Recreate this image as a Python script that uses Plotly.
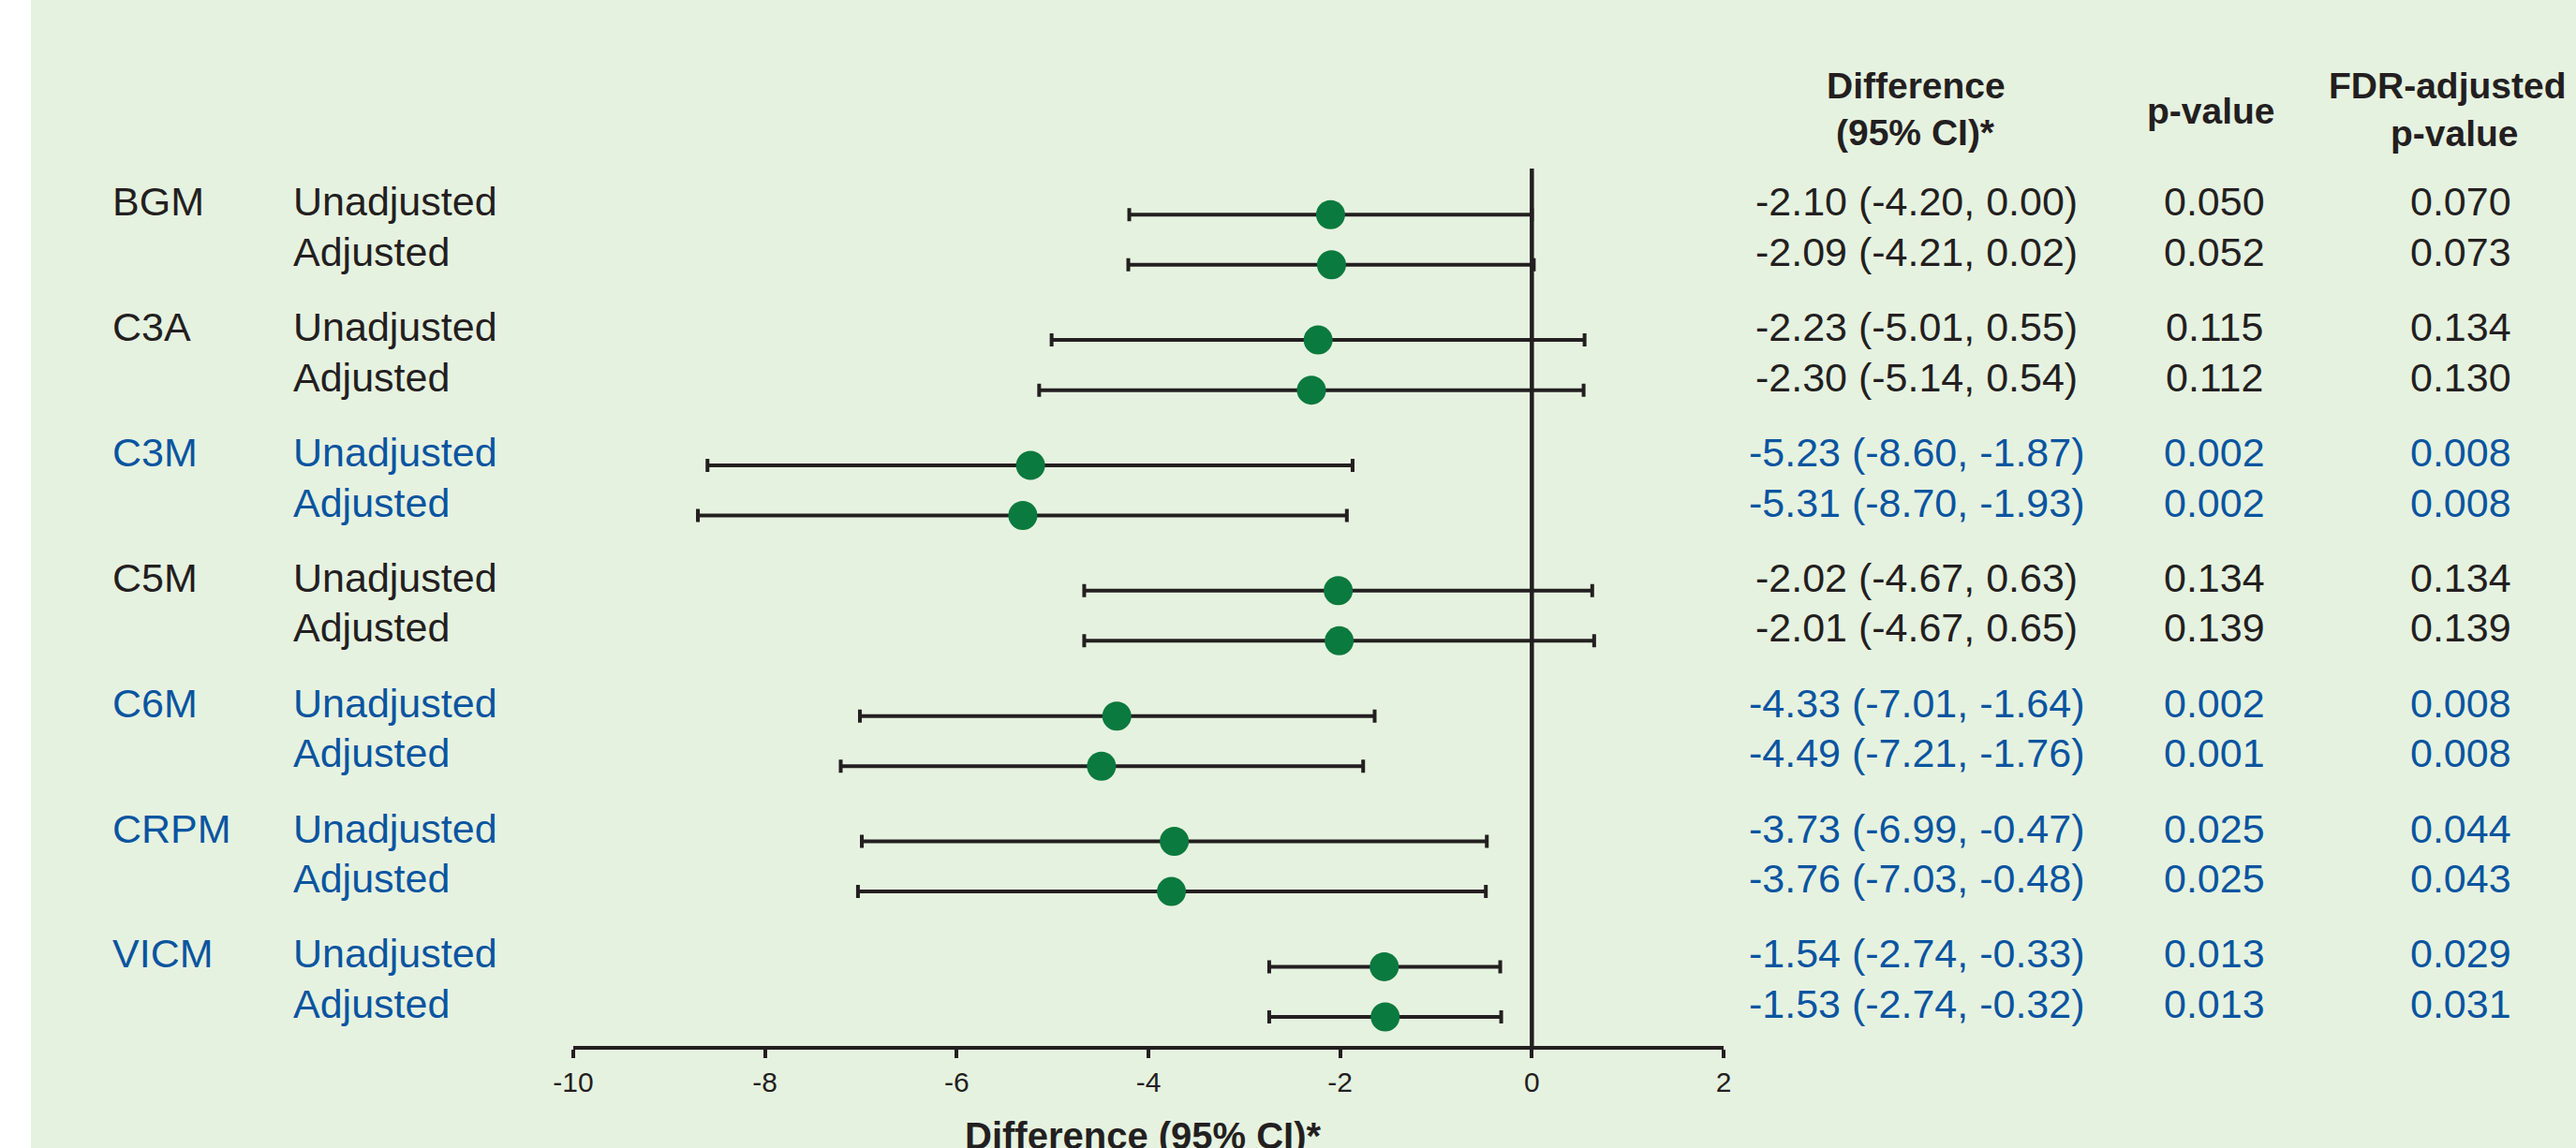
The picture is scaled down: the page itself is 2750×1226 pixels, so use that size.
import plotly.graph_objects as go

# ---------------- data ----------------
groups = ["BGM", "C3A", "C3M", "C5M", "C6M", "CRPM", "VICM"]
row_labels = ["Unadjusted", "Adjusted"]

est_unadj = [-2.10, -2.23, -5.23, -2.02, -4.33, -3.73, -1.54]
lo_unadj = [-4.20, -5.01, -8.60, -4.67, -7.01, -6.99, -2.74]
hi_unadj = [0.00, 0.55, -1.87, 0.63, -1.64, -0.47, -0.33]
p_unadj = ["0.050", "0.115", "0.002", "0.134", "0.002", "0.025", "0.013"]
fdr_unadj = ["0.070", "0.134", "0.008", "0.134", "0.008", "0.044", "0.029"]

est_adj = [-2.09, -2.30, -5.31, -2.01, -4.49, -3.76, -1.53]
lo_adj = [-4.21, -5.14, -8.70, -4.67, -7.21, -7.03, -2.74]
hi_adj = [0.02, 0.54, -1.93, 0.65, -1.76, -0.48, -0.32]
p_adj = ["0.052", "0.112", "0.002", "0.139", "0.001", "0.025", "0.013"]
fdr_adj = ["0.073", "0.130", "0.008", "0.139", "0.008", "0.043", "0.031"]

x_ticks = [-10, -8, -6, -4, -2, 0, 2]
headers = ["Difference", "(95% CI)*", "p-value", "FDR-adjusted", "p-value"]
axis_title = "Difference (95% CI)*"

# ---------------- styling ----------------
W, H = 2750, 1226
L, R, T, B = 612, 910, 180, 109
BG = "#e6f2e0"
BLACK = "#231f20"
BLUE = "#0a55a0"
GREEN = "#0b7a3e"
FONT = "Liberation Sans, Arial, sans-serif"
FS = 43


def px_x(px):
    return (px - L) / (W - L - R)


def px_y(py):
    return (H - B - py) / (H - T - B)


# build rows
ys, est, lo, hi, pv, fdr, sub, grp = [], [], [], [], [], [], [], []
for g in range(len(groups)):
    for r, (e, l, h, p, f) in enumerate([
        (est_unadj[g], lo_unadj[g], hi_unadj[g], p_unadj[g], fdr_unadj[g]),
        (est_adj[g], lo_adj[g], hi_adj[g], p_adj[g], fdr_adj[g]),
    ]):
        ys.append(g * 2.5 + r)
        est.append(e)
        lo.append(l)
        hi.append(h)
        pv.append(p)
        fdr.append(f)
        sub.append(row_labels[r])
        grp.append(g)

fig = go.Figure()
fig.add_trace(go.Scatter(
    x=est, y=ys, mode="markers",
    marker=dict(size=31, color=GREEN, line=dict(width=0)),
    error_x=dict(type="data", symmetric=False,
                 array=[h - e for h, e in zip(hi, est)],
                 arrayminus=[e - l for e, l in zip(est, lo)],
                 color=BLACK, thickness=4, width=7),
    showlegend=False, hoverinfo="skip",
))

ann = []
for i, y in enumerate(ys):
    g = grp[i]
    sig = float(fdr[i]) < 0.05
    col = BLUE if sig else BLACK
    if sub[i] == "Unadjusted":
        ann.append(dict(x=px_x(118), xref="paper", y=y, yref="y", text=groups[g],
                        xanchor="left", yanchor="middle", yshift=14, showarrow=False,
                        font=dict(size=FS, color=col, family=FONT)))
    ann.append(dict(x=px_x(311), xref="paper", y=y, yref="y", text=sub[i],
                    xanchor="left", yanchor="middle", yshift=14, showarrow=False,
                    font=dict(size=FS, color=col, family=FONT)))
    ann.append(dict(x=px_x(2046), xref="paper", y=y, yref="y",
                    text=f"{est[i]:.2f} ({lo[i]:.2f}, {hi[i]:.2f})",
                    xanchor="center", yanchor="middle", yshift=14, showarrow=False,
                    font=dict(size=FS, color=col, family=FONT)))
    ann.append(dict(x=px_x(2364), xref="paper", y=y, yref="y", text=pv[i],
                    xanchor="center", yanchor="middle", yshift=14, showarrow=False,
                    font=dict(size=FS, color=col, family=FONT)))
    ann.append(dict(x=px_x(2627), xref="paper", y=y, yref="y", text=fdr[i],
                    xanchor="center", yanchor="middle", yshift=14, showarrow=False,
                    font=dict(size=FS, color=col, family=FONT)))

hdr_pos = [(2045, 92), (2045, 142), (2360, 118), (2613, 92), (2620, 143)]
for t, (hx, hy) in zip(headers, hdr_pos):
    ann.append(dict(x=px_x(hx), xref="paper", y=px_y(hy), yref="paper", text=f"<b>{t}</b>",
                    xanchor="center", yanchor="middle", showarrow=False,
                    font=dict(size=39, color=BLACK, family=FONT)))

ann.append(dict(x=px_x(1220), xref="paper", y=px_y(1213), yref="paper",
                text=f"<b>{axis_title}</b>", xanchor="center", yanchor="middle",
                showarrow=False, font=dict(size=40, color=BLACK, family=FONT)))

shapes = [
    dict(type="rect", xref="paper", yref="paper", x0=px_x(0), x1=px_x(33),
         y0=px_y(H), y1=px_y(0), fillcolor="white", line=dict(width=0), layer="below"),
    dict(type="line", xref="x", yref="paper", x0=0, x1=0, y0=0, y1=1,
         line=dict(color=BLACK, width=4.5)),
]

fig.update_layout(
    width=W, height=H, autosize=False,
    margin=dict(l=L, r=R, t=T, b=B, pad=0),
    paper_bgcolor=BG, plot_bgcolor=BG,
    annotations=ann, shapes=shapes,
    font=dict(family=FONT, color=BLACK),
    xaxis=dict(range=[-10, 2], tickvals=x_ticks, ticktext=[str(v) for v in x_ticks],
               showline=True, linewidth=4, linecolor=BLACK, ticks="outside",
               ticklen=9, tickwidth=4, tickcolor=BLACK, showgrid=False, zeroline=False,
               tickfont=dict(size=30, color=BLACK, family=FONT), fixedrange=True),
    yaxis=dict(range=[16.58, -0.92], visible=False, showgrid=False, zeroline=False,
               fixedrange=True),
)

fig.write_html(
    "out.html",
    config={"displayModeBar": False},
    post_script="document.body.style.margin='0';document.body.style.overflow='hidden';",
)
